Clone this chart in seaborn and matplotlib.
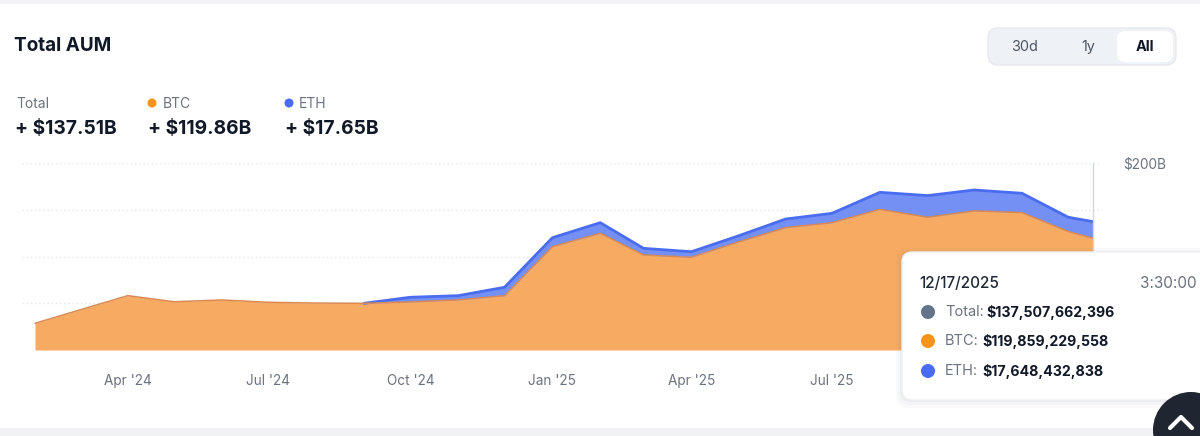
"""
Total AUM chart (BTC + ETH spot ETF assets), stacked area
"""

import pandas as pd
import matplotlib.pyplot as plt
from matplotlib.patches import FancyBboxPatch, Circle, Rectangle
import seaborn as sns

sns.set_theme(style="white")
plt.rcParams["font.family"] = ["Inter", "DejaVu Sans"]

# data (billions of USD)
dates = [
    "2024-02-01", "2024-04-01", "2024-05-01", "2024-06-01", "2024-07-01",
    "2024-08-01", "2024-09-01", "2024-10-01", "2024-11-01", "2024-12-01",
    "2025-01-01", "2025-02-01", "2025-03-01", "2025-04-01", "2025-05-01",
    "2025-06-01", "2025-07-01", "2025-08-01", "2025-09-01", "2025-10-01",
    "2025-11-01", "2025-12-01", "2025-12-17",
]
btc_aum = [28.6, 58.2, 51.7, 53.6, 51.1, 50.3, 50.0, 51.5, 53.6, 58.2,
           110.7, 125.0, 101.8, 99.3, 115.5, 131.1, 136.4, 150.7, 142.2,
           149.0, 147.2, 126.9, 119.86]
eth_aum = [0.0, 0.0, 0.0, 0.0, 0.0, 0.0, 0.0, 5.0, 4.6, 9.0,
           9.6, 11.4, 7.1, 6.0, 6.5, 9.2, 10.0, 18.2, 23.2,
           22.4, 20.7, 15.3, 17.65]

tick_dates = ["2024-04-01", "2024-07-01", "2024-10-01",
              "2025-01-01", "2025-04-01", "2025-07-01"]
tick_labels = ["Apr '24", "Jul '24", "Oct '24", "Jan '25", "Apr '25", "Jul '25"]
grid_values = [0, 50, 100, 150, 200]
grid_labels = ["", "", "", "", "$200B"]

summary_labels = ["Total", "BTC", "ETH"]
summary_values = ["+ $137.51B", "+ $119.86B", "+ $17.65B"]
tooltip_date = "12/17/2025"
tooltip_time = "3:30:00"
tooltip_labels = ["Total:", "BTC:", "ETH:"]
tooltip_values = ["$137,507,662,396", "$119,859,229,558", "$17,648,432,838"]
range_buttons = ["30d", "1y", "All"]

# colours
orange_fill = "#F6AA62"
orange_line = "#D98A52"
blue_fill = "#7490F4"
blue_line = "#4A6CF0"
dot_colors = ["#64748B", "#F7931A", "#4A6CF5"]
dark = "#111827"
grey = "#6B7280"

df = pd.DataFrame({"date": pd.to_datetime(dates), "BTC": btc_aum, "ETH": eth_aum})
df["Total"] = df["BTC"] + df["ETH"]
# blue edge only from the point where ETH starts to separate
first_eth = df.index[df["ETH"] > 0][0] - 1
df["TotalLine"] = df["Total"].where(df.index >= first_eth)

W, H = 1200, 436
fig = plt.figure(figsize=(W / 100, H / 100), dpi=100)
fig.patch.set_facecolor("white")


def px_rect(left, top, right, bottom):
    return [left / W, 1 - bottom / H, (right - left) / W, (bottom - top) / H]


ax = fig.add_axes(px_rect(22, 163.3, 1102, 350))
ax.set_facecolor("none")

# x limits so the first / last points land where they do in the picture
start, end = df["date"].iloc[0], df["date"].iloc[-1]
n_days = (end - start).days
px_per_day = (1093 - 35) / n_days
ax.set_xlim(start - pd.Timedelta(days=13 / px_per_day),
            end + pd.Timedelta(days=9 / px_per_day))
ax.set_ylim(0, 200)

ax.fill_between(df["date"], 0, df["BTC"], color=orange_fill, lw=0, zorder=2)
ax.fill_between(df["date"], df["BTC"], df["Total"], color=blue_fill, lw=0, zorder=2)
sns.lineplot(data=df, x="date", y="TotalLine", color=blue_line, lw=2, ax=ax, zorder=3)
sns.lineplot(data=df, x="date", y="BTC", color=orange_line, lw=1.1, ax=ax, zorder=3)

ax.axvline(end, color="#D4D7DC", lw=1, zorder=4)

ax.set_yticks(grid_values)
ax.set_yticklabels(grid_labels)
ax.yaxis.tick_right()
ax.yaxis.grid(True, linestyle=(0, (1, 2)), color="#E3E6EA", lw=1)
ax.set_axisbelow(True)
ax.set_xticks(pd.to_datetime(tick_dates))
ax.set_xticklabels(tick_labels)
ax.tick_params(axis="x", length=0, pad=17, labelsize=9.8, labelcolor=grey)
ax.tick_params(axis="y", length=0, pad=15, labelsize=9.8, labelcolor=grey)
ax.set_xlabel("")
ax.set_ylabel("")
for s in ax.spines.values():
    s.set_visible(False)

# overlay in pixel coordinates for the card UI
ui = fig.add_axes([0, 0, 1, 1])
ui.set_xlim(0, W)
ui.set_ylim(H, 0)
ui.axis("off")

ui.add_patch(Rectangle((0, 0), W, 4, fc="#F3F4F6", ec="none"))
ui.add_patch(Rectangle((0, 428), W, 8, fc="#F1F2F4", ec="none"))

ui.text(14, 46, "Total AUM", fontsize=13.6, fontweight="bold", color=dark, va="center")

# range switch
ui.add_patch(FancyBboxPatch((988, 28), 188, 37, boxstyle="round,pad=0,rounding_size=10",
                            fc="#EEF1F5", ec="#E6E9EE", lw=1))
ui.add_patch(FancyBboxPatch((1117, 31), 56, 31, boxstyle="round,pad=0,rounding_size=8",
                            fc="white", ec="none"))
for x, label in zip([1024, 1088, 1145], range_buttons):
    ui.text(x, 47, label, fontsize=10.4, ha="center", va="center",
            color=dark if label == "All" else "#4B5563",
            fontweight="bold" if label == "All" else "normal")

# summary row
label_x = [16, 163, 299]
value_x = [15, 148, 285]
for i, (lab, val) in enumerate(zip(summary_labels, summary_values)):
    ui.text(label_x[i], 104, lab, fontsize=10, color=grey, va="center")
    ui.text(value_x[i], 129, val, fontsize=13.8, fontweight="bold", color=dark, va="center")
ui.add_patch(Circle((152, 103), 4.5, fc=dot_colors[1], ec="none"))
ui.add_patch(Circle((289, 103), 4.5, fc=dot_colors[2], ec="none"))

# tooltip
for k, a in enumerate([0.05, 0.04, 0.03]):
    ui.add_patch(FancyBboxPatch((902 - 2 - k * 2, 252 - k * 2), 340 + k * 4, 150 + k * 5,
                                boxstyle="round,pad=0,rounding_size=12",
                                fc="#6B7280", ec="none", alpha=a))
ui.add_patch(FancyBboxPatch((902, 252), 340, 148, boxstyle="round,pad=0,rounding_size=10",
                            fc="white", ec="#EEF0F3", lw=1))
ui.text(919, 283, tooltip_date, fontsize=11, color="#1F2937", va="center", fontweight="medium")
ui.text(1197, 283, tooltip_time, fontsize=11, color=grey, va="center", ha="right")
row_y = [312, 341, 371]
row_val_x = [986, 982, 982]
for y, lab, val, c, vx in zip(row_y, tooltip_labels, tooltip_values, dot_colors, row_val_x):
    ui.add_patch(Circle((928, y), 7, fc=c, ec="none"))
    ui.text(945, y, lab, fontsize=10.5, color=grey, va="center")
    ui.text(vx, y, val, fontsize=10.2, color=dark, va="center", fontweight="bold")

# scroll-to-top button
ui.add_patch(Circle((1191, 430), 38, fc="#1F2632", ec="none"))
ui.plot([1170, 1181, 1192], [428, 417, 428], color="white", lw=3,
        solid_capstyle="round", solid_joinstyle="round")

fig.savefig("out.png", dpi=100)
